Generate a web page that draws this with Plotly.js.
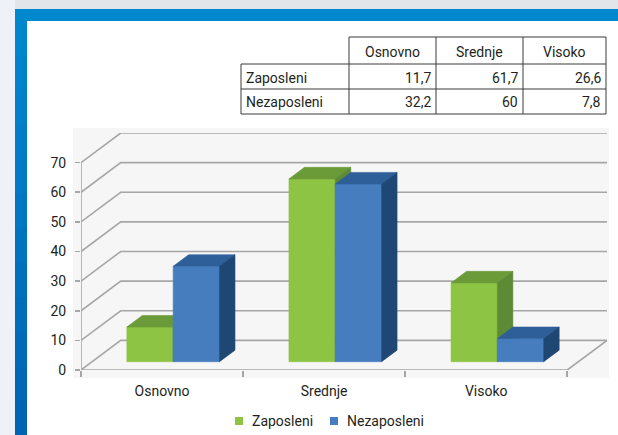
<!DOCTYPE html>
<html>
<head>
<meta charset="utf-8">
<script src="https://cdn.plot.ly/plotly-3.0.1.min.js"></script>
<style>html,body{margin:0;padding:0;background:#fff;}#chart{width:618px;height:435px;}</style>
</head>
<body>
<div id="chart"></div>
<script>
// ---- data ----
const categories = ['Osnovno', 'Srednje', 'Visoko'];
const seriesNames = ['Zaposleni', 'Nezaposleni'];
const zaposleni = [11.7, 61.7, 26.6];
const nezaposleni = [32.2, 60, 7.8];
const yTicks = [0, 10, 20, 30, 40, 50, 60, 70];

// ---- style / geometry ----
const FONT = 'Roboto, "DejaVu Sans", sans-serif';
const TXT = '#231f20';
const GRID = '#a6a6a6';
const D = 0.245;      // depth offset in category units
const DY = 10;        // depth offset in value units
const d0 = 0.28, d1 = 0.67; // bar depth span (fraction of floor depth)
const BW = 0.2857;    // bar width (gap width 150%)
const colors = {
  Zaposleni:   {front: '#8dc444', top: '#6b9b38', side: '#5d8a34'},
  Nezaposleni: {front: '#457dbf', top: '#2f5f98', side: '#1e4774'}
};

// plot area in pixels
const L = 81, R = 607, T = 133, B = 370;
const px = x => (x - L) / (R - L);
const py = y => (B - y) / (B - T);

const traces = [];

// back wall / side wall grid lines
const gx = [], gy = [];
yTicks.forEach(v => {
  gx.push(0, D, 3 + D, null);
  gy.push(v, v + DY, v + DY, null);
});
// floor front edge, right edge, front axis
gx.push(0, 3, 3 + D, null, 0, 0, null);
gy.push(0, 0, DY, null, 0, yTicks[yTicks.length - 1], null);
traces.push({x: gx, y: gy, type: 'scatter', mode: 'lines',
  line: {color: GRID, width: 1.6}, hoverinfo: 'skip', showlegend: false});

function faces(vals, leftBar, c) {
  const f = {x: [], y: []}, t = {x: [], y: []}, s = {x: [], y: []};
  const x0 = D * d0, y0 = DY * d0, x1 = D * d1, y1 = DY * d1;
  vals.forEach((v, i) => {
    const a = i + 0.5 - (leftBar ? BW : 0);
    const b = a + BW;
    f.x.push(a + x0, b + x0, b + x0, a + x0, a + x0, null);
    f.y.push(y0, y0, v + y0, v + y0, y0, null);
    t.x.push(a + x0, b + x0, b + x1, a + x1, a + x0, null);
    t.y.push(v + y0, v + y0, v + y1, v + y1, v + y0, null);
    s.x.push(b + x0, b + x1, b + x1, b + x0, b + x0, null);
    s.y.push(y0, y1, v + y1, v + y0, y0, null);
  });
  return [[f, c.front], [t, c.top], [s, c.side]].map(([p, col]) => ({
    x: p.x, y: p.y, type: 'scatter', mode: 'lines', fill: 'toself',
    fillcolor: col, line: {color: col, width: 0.6}, hoverinfo: 'skip', showlegend: false
  }));
}
traces.push(...faces(zaposleni, true, colors.Zaposleni));
traces.push(...faces(nezaposleni, false, colors.Nezaposleni));

// ---- shapes & annotations (frame, panel, table, legend) ----
const shapes = [];
const annotations = [];
function rect(x0, y0, x1, y1, fill, layer) {
  shapes.push({type: 'rect', xref: 'paper', yref: 'paper',
    x0: px(x0), x1: px(x1), y0: py(y1), y1: py(y0),
    fillcolor: fill, line: {width: 0}, layer: layer || 'below'});
}
function hline(x0, x1, y, col, w) {
  shapes.push({type: 'line', xref: 'paper', yref: 'paper',
    x0: px(x0), x1: px(x1), y0: py(y), y1: py(y), line: {color: col, width: w}, layer: 'above'});
}
function vline(x, y0, y1, col, w) {
  shapes.push({type: 'line', xref: 'paper', yref: 'paper',
    x0: px(x), x1: px(x), y0: py(y0), y1: py(y1), line: {color: col, width: w}, layer: 'above'});
}
function text(x, y, s, xanchor) {
  annotations.push({xref: 'paper', yref: 'paper', x: px(x), y: py(y), text: s,
    showarrow: false, xanchor: xanchor || 'center', yanchor: 'middle',
    font: {family: FONT, size: 14, color: TXT}});
}

// outer page background + frame
rect(0, 0, 618, 9, '#e2e6eb');
rect(0, 0, 15, 435, '#eef2f8');
rect(15, 9, 618, 21, '#0088ce');
const steps = 12;
for (let k = 0; k < steps; k++) {
  const y0 = 21 + (435 - 21) * k / steps, y1 = 21 + (435 - 21) * (k + 1) / steps + 1;
  const tt = k / (steps - 1);
  const r = 0, g = Math.round(134 - 34 * tt), b = Math.round(205 - 25 * tt);
  rect(15, y0, 27, y1, `rgb(${r},${g},${b})`);
}
// chart panel
rect(73, 128, 609, 378, '#f6f6f6');

// table
const colX = [241, 349, 436, 523, 606];
const rowY = [37, 64, 89, 114];
const TL = '#3a3a3a';
hline(colX[1], colX[4], rowY[0], TL, 1);
for (let r = 1; r < rowY.length; r++) hline(colX[0], colX[4], rowY[r], TL, 1);
vline(colX[0], rowY[1], rowY[3], TL, 1);
for (let c = 1; c < colX.length; c++) vline(colX[c], rowY[0], rowY[3], TL, 1);
categories.forEach((c, i) => text((colX[i + 1] + colX[i + 2]) / 2, (rowY[0] + rowY[1]) / 2 + 1, c));
const rows = [zaposleni, nezaposleni];
seriesNames.forEach((n, r) => {
  const yc = (rowY[r + 1] + rowY[r + 2]) / 2 + 1;
  text(colX[0] + 3, yc, n, 'left');
  rows[r].forEach((v, i) => text(colX[i + 2] - 3, yc, String(v).replace('.', ','), 'right'));
});

// legend
const legY = 421;
const legItems = [[235, 250], [330, 345]];
seriesNames.forEach((n, i) => {
  const [sx, tx] = legItems[i];
  rect(sx, legY - 4, sx + 8, legY + 4, colors[n].front, 'above');
  text(tx, legY, n, 'left');
});

const layout = {
  width: 618, height: 435,
  margin: {l: L, r: 618 - R, t: T, b: 435 - B, pad: 0},
  paper_bgcolor: '#ffffff', plot_bgcolor: 'rgba(0,0,0,0)',
  showlegend: false,
  font: {family: FONT, size: 14, color: TXT},
  xaxis: {range: [0, 3 + D], showgrid: false, zeroline: false, showline: false,
    tickmode: 'array', tickvals: categories.map((c, i) => i + 0.5), ticktext: categories,
    ticks: '', ticklabelstandoff: 11,
    minor: {tickmode: 'array', tickvals: [0, 1, 2, 3], ticks: 'outside', ticklen: 6,
      tickcolor: GRID, tickwidth: 1.6, showgrid: false},
    tickfont: {family: FONT, size: 14, color: TXT}, fixedrange: true},
  yaxis: {range: [0, 70 + DY], showgrid: false, zeroline: false, showline: false,
    tickmode: 'array', tickvals: yTicks, ticks: 'outside', ticklen: 5,
    tickcolor: GRID, tickwidth: 1.6, ticklabelstandoff: 6,
    tickfont: {family: FONT, size: 14, color: TXT}, fixedrange: true},
  shapes: shapes,
  annotations: annotations
};

Plotly.newPlot('chart', traces, layout, {displayModeBar: false, staticPlot: true});
</script>
</body>
</html>
